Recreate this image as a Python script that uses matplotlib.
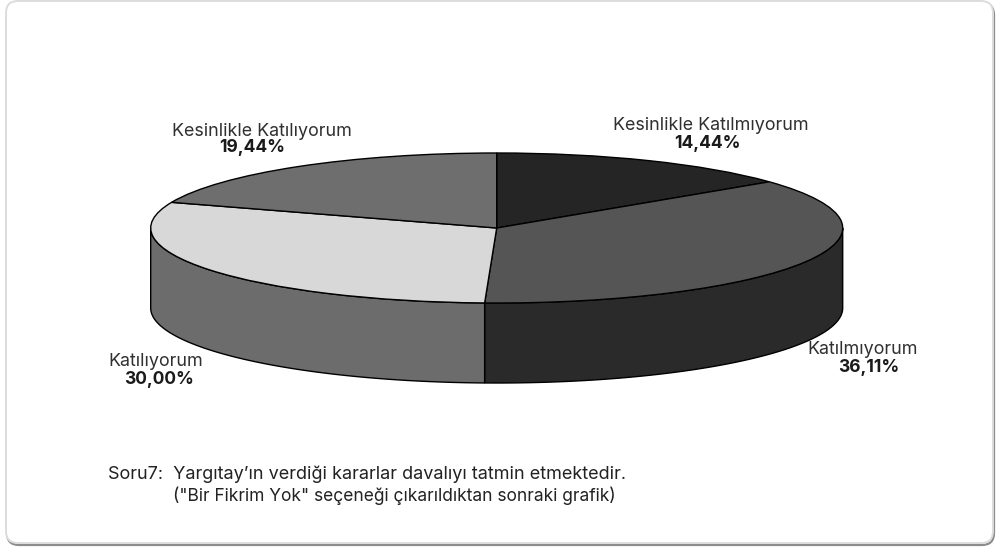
import numpy as np
import matplotlib
matplotlib.use("Agg")
import matplotlib.pyplot as plt
from matplotlib.patches import FancyBboxPatch

plt.rcParams['font.family'] = ['Inter', 'Liberation Sans', 'DejaVu Sans']

categories = ["Kesinlikle Katılmıyorum", "Katılmıyorum", "Katılıyorum", "Kesinlikle Katılıyorum"]
values = [14.44, 36.11, 30.00, 19.44]
top_colors = ["#252525", "#555555", "#d8d8d8", "#6e6e6e"]
side_colors = ["#1e1e1e", "#2a2a2a", "#6c6c6c", "#5a5a5a"]
label_pos = [(711, 126), (863, 349), (156, 361), (262, 131)]
percent_pos = [(707, 143.5), (869, 367), (159, 379), (252, 148)]
footer = ["Soru7:  Yargıtay’ın verdiği kararlar davalıyı tatmin etmektedir.",
          "(\"Bir Fikrim Yok\" seçeneği çıkarıldıktan sonraki grafik)"]

W, H = 996, 547
CX, CY, RX, RY, DEPTH = 496.7, 228.0, 346.0, 75.0, 80.0

fig = plt.figure(figsize=(W / 100, H / 100), dpi=100, facecolor="white")

# frame, in pixel coordinates
bg = fig.add_axes([0, 0, 1, 1])
bg.set_xlim(0, W); bg.set_ylim(H, 0); bg.axis("off")
bg.add_patch(FancyBboxPatch((7, 3), 987, 542, boxstyle="round,pad=0,rounding_size=12",
                            fc="white", ec="#8c8c8c", lw=1.6, zorder=0))
bg.add_patch(FancyBboxPatch((6, 1), 987, 542, boxstyle="round,pad=0,rounding_size=12",
                            fc="white", ec="#dcdcdc", lw=1.4, zorder=1))

# pie axes: unit circle stretched into the tilted ellipse
ax = fig.add_axes([0, 0, 1, 1])
ax.patch.set_alpha(0)
ax.axis("off")

fractions = np.array(values) / sum(values)
edges = np.concatenate([[0], np.cumsum(fractions)]) * 2 * np.pi
depth = DEPTH / RY

# side wall: only the visible front half (clockwise angle from the top, 90..270 deg)
for i, col in enumerate(side_colors):
    a0, a1 = max(edges[i], np.pi / 2), min(edges[i + 1], 1.5 * np.pi)
    if a1 <= a0:
        continue
    t = np.linspace(a0, a1, 200)
    x, y = np.sin(t), np.cos(t)
    ax.fill(np.r_[x, x[::-1]], np.r_[y, y[::-1] - depth], fc=col, ec="black", lw=1.0, zorder=1)

wedges, _ = ax.pie(values, colors=top_colors, startangle=90, counterclock=False, radius=1,
                   wedgeprops=dict(edgecolor="black", linewidth=1.0, zorder=2))
for w in wedges:
    w.set_zorder(2)
ax.set_aspect("auto")
ax.set_xlim((0 - CX) / RX, (W - CX) / RX)
ax.set_ylim((CY - H) / RY, (CY - 0) / RY)

# labels
for cat, val, (px, py), (qx, qy) in zip(categories, values, label_pos, percent_pos):
    bg.text(px, py, cat, ha="center", va="center", fontsize=12.9, color="#303030", zorder=5)
    bg.text(qx, qy, f"{val:.2f}%".replace(".", ","), ha="center", va="center",
            fontsize=12.6, fontweight="bold", color="#1a1a1a", zorder=5)

# note
bg.text(108, 474, footer[0], ha="left", va="center", fontsize=13.0, color="#222222")
bg.text(173, 496, footer[1], ha="left", va="center", fontsize=12.5, color="#222222")

fig.savefig("out.png", dpi=100, facecolor="white")
